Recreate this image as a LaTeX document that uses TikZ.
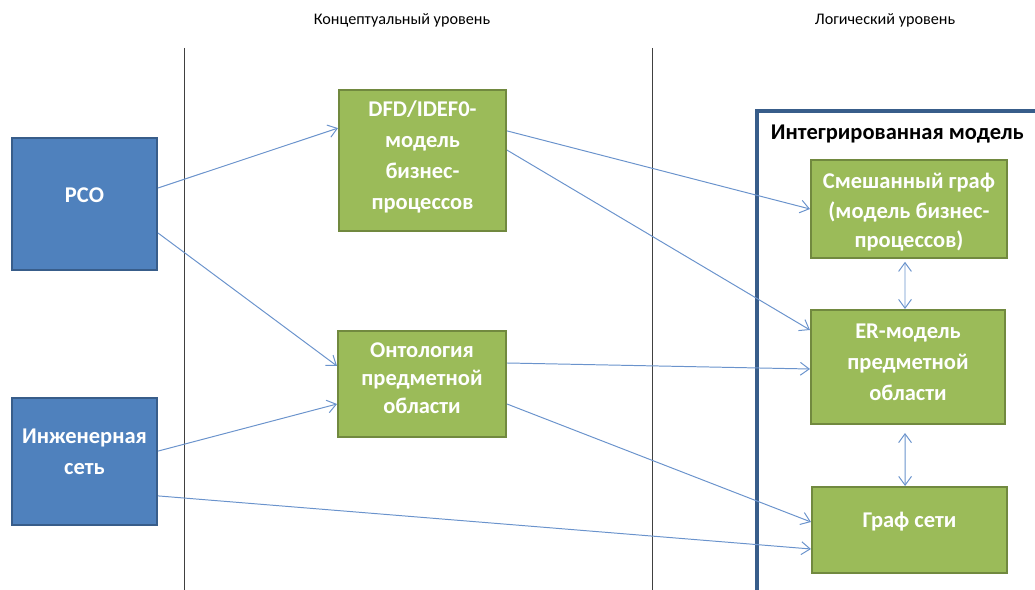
\documentclass[tikz,border=0pt]{standalone}
\usepackage{fontspec}
\setmainfont{Carlito}
\usetikzlibrary{arrows.meta}

\definecolor{boxblue}{HTML}{4F81BD}
\definecolor{boxblueline}{HTML}{385D8A}
\definecolor{boxgreen}{HTML}{9BBB59}
\definecolor{boxgreenline}{HTML}{71893F}
\definecolor{linkblue}{HTML}{6A93CC}

\tikzset{
	srcbox/.style={draw=boxblueline, fill=boxblue, line width=1.4pt, inner sep=0pt},
	modelbox/.style={draw=boxgreenline, fill=boxgreen, line width=1.4pt, inner sep=0pt},
	boxtext/.style={text=white, font=\fontsize{16}{22}\selectfont\bfseries, align=center, inner sep=0pt},
	link/.style={draw=linkblue, line width=0.7pt, -{Straight Barb[length=2.2mm,width=3.2mm]}},
	twolink/.style={draw=linkblue, line width=0.7pt, {Straight Barb[length=2.2mm,width=3.2mm]}-{Straight Barb[length=2.2mm,width=3.2mm]}},
	levelsep/.style={draw=black!75, line width=0.6pt},
	leveltitle/.style={font=\fontsize{11.5}{13}\selectfont}
}

\begin{document}
\begin{tikzpicture}[x=0.025cm, y=-0.025cm]
		\useasboundingbox (0,0) rectangle (1035,590);

		% Level titles and separators
		\node[leveltitle] (concept) at (402,20) {Концептуальный уровень};
		\node[leveltitle] (logic) at (885,20) {Логический уровень};
		\draw[levelsep] (184,48) -- (184,590);
		\draw[levelsep] (652,48) -- (652,590);

		% Integrated model frame
		\draw[draw=boxblueline, line width=2.2pt] (757,600) -- (757,111) -- (1045,111);
		\node[anchor=west, font=\fontsize{16}{18}\selectfont\bfseries] (integr) at (766,134) {Интегрированная модель};

		% Sources
		\node[srcbox, minimum width=3.625cm, minimum height=3.3cm,
			label={[boxtext, yshift=0.225cm]center:РСО}] (rco) at (84.5,204) {};
		\node[srcbox, minimum width=3.625cm, minimum height=3.175cm,
			label={[boxtext, yshift=0.24cm]center:Инженерная\\сеть}] (net) at (84.5,461.5) {};

		% Conceptual models
		\node[modelbox, minimum width=4.175cm, minimum height=3.525cm,
			label={[boxtext, yshift=0.09cm]center:DFD/IDEF0-\\модель\\бизнес-\\процессов}] (dfd) at (422.5,160.5) {};
		\node[modelbox, minimum width=4.2cm, minimum height=2.65cm,
			label={[boxtext, yshift=0.14cm, font=\fontsize{16}{20}\selectfont\bfseries]center:Онтология\\предметной\\области}] (onto) at (422,384) {};

		% Logical models
		\node[modelbox, minimum width=4.9cm, minimum height=2.45cm,
			label={[boxtext, yshift=-0.09cm, font=\fontsize{16}{21}\selectfont\bfseries]center:Смешанный граф\\(модель бизнес-\\процессов)}] (mixed) at (909,209) {};
		\node[modelbox, minimum width=4.85cm, minimum height=2.85cm,
			label={[boxtext, yshift=0.125cm]center:ER-модель\\предметной\\области}] (er) at (908,367) {};
		\node[modelbox, minimum width=4.875cm, minimum height=2.15cm,
			label={[boxtext, yshift=0.2cm]center:Граф сети}] (netgraph) at (909.5,530) {};

		% Links
		\draw[link] ([yshift=0.4cm]rco.east) -- ([yshift=0.81cm]dfd.west);
		\draw[link] ([yshift=-0.725cm]rco.east) -- ([yshift=0.45cm]onto.west);
		\draw[link] ([yshift=0.26cm]net.east) -- ([yshift=-0.5cm]onto.west);
		\draw[link] ([yshift=-0.86cm]net.east) -- ([yshift=-0.475cm]netgraph.west);
		\draw[link] ([yshift=0.74cm]dfd.east) -- (mixed.west);
		\draw[link] ([yshift=0.26cm]dfd.east) -- ([yshift=0.925cm]er.west);
		\draw[link] ([yshift=0.525cm]onto.east) -- ([yshift=-0.05cm]er.west);
		\draw[link] ([yshift=-0.5cm]onto.east) -- ([yshift=0.2cm]netgraph.west);
		\draw[twolink, shorten <=2pt] ([xshift=-0.1cm]mixed.south) -- ([xshift=-0.075cm]er.north);
		\draw[twolink, shorten <=0.2cm] ([xshift=-0.075cm]er.south) -- ([xshift=-0.11cm]netgraph.north);
	\end{tikzpicture}
\end{document}
